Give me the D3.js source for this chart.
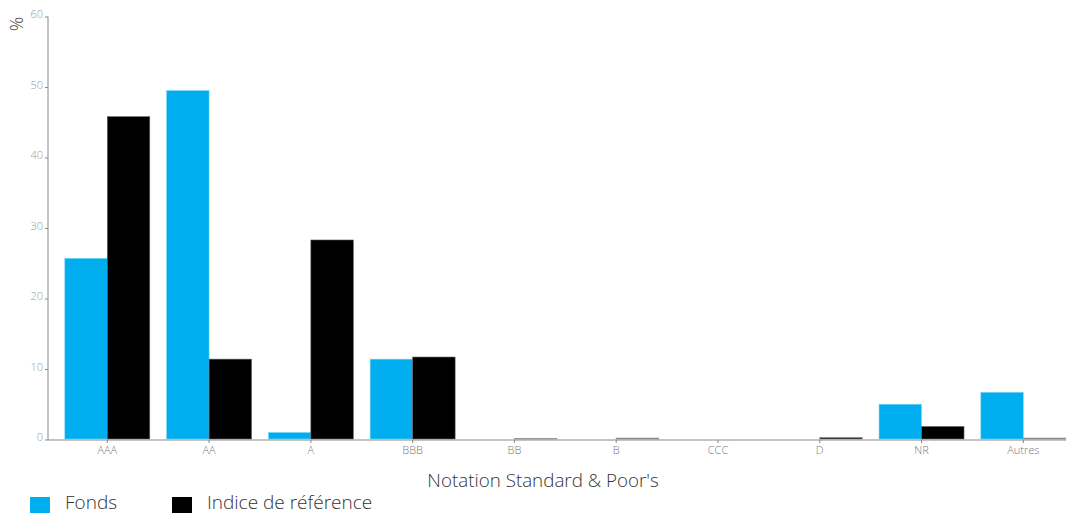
<!DOCTYPE html>
<html><head><meta charset="utf-8">
<script src="https://cdn.jsdelivr.net/npm/d3@7"></script>
<style>
body{margin:0;background:#fff;}
text{font-family:"Open Sans",sans-serif;}
</style></head>
<body><svg id="c" width="1074" height="514"></svg>
<script>
const categories = ["AAA","AA","A","BBB","BB","B","CCC","D","NR","Autres"];
const fonds = [25.7, 49.5, 1.0, 11.4, 0, 0, 0, 0, 5.0, 6.7];
const indice = [45.8, 11.4, 28.3, 11.7, 0.15, 0.2, 0, 0.3, 1.85, 0.2];
const yTicks = [0,10,20,30,40,50,60];
const seriesNames = ["Fonds","Indice de référence"];
const colors = ["#00AEEF","#000000"];
const strokes = ["#7fd6f7","#666666"];

const svg = d3.select("#c");
const x = d3.scaleBand().domain(categories).range([56.4,1074.2]).paddingInner(0.165).paddingOuter(0.0825);
const xs = d3.scaleBand().domain([0,1]).range([0,x.bandwidth()]);
const y = d3.scaleLinear().domain([0,60]).range([439.5,16.5]);

// bars
const data = categories.map((c,i)=>({c, v:[fonds[i], indice[i]]}));
const g = svg.append("g");
data.forEach(d=>{
  d.v.forEach((v,s)=>{
    if(v<=0) return;
    g.append("rect")
      .attr("x", x(d.c)+xs(s))
      .attr("y", y(v))
      .attr("width", xs.bandwidth())
      .attr("height", y(0)-y(v)-0.5)
      .attr("fill", colors[s])
      .attr("stroke", v<0.5 ? "#999" : strokes[s])
      .attr("stroke-width", v<0.5 ? 0.8 : 0.6);
  });
});

// y axis
const ya = svg.append("g").attr("transform","translate(48,0)")
  .call(d3.axisLeft(y).tickValues(yTicks).tickSize(3).tickPadding(2));
ya.select(".domain").attr("stroke","#888").attr("d","M0,16.5V440");
ya.selectAll(".tick line").attr("stroke","#888");
ya.selectAll(".tick text").attr("fill","#999").attr("font-size","11px").attr("font-weight",300).attr("dy","0.1em");

// x axis
const xa = svg.append("g").attr("transform","translate(0,440)")
  .call(d3.axisBottom(x).tickSize(3).tickPadding(3));
xa.select(".domain").attr("stroke","#888").attr("d","M48,0H1066");
xa.selectAll(".tick line").attr("stroke","#888");
xa.selectAll(".tick text").attr("fill","#777").attr("font-size","11px").attr("font-weight",300);

// axis titles
svg.append("text").attr("x",543).attr("y",487).attr("text-anchor","middle")
  .attr("font-size","18.8px").attr("font-weight",300).attr("fill","#333").text("Notation Standard & Poor's");
svg.append("text").attr("transform","translate(23,24) rotate(-90)").attr("text-anchor","middle")
  .attr("font-size","18px").attr("font-weight",300).attr("fill","#444").text("%");

// legend
const leg = [[30,65],[172,207]];
seriesNames.forEach((n,i)=>{
  svg.append("rect").attr("x",leg[i][0]).attr("y",497).attr("width",20).attr("height",16).attr("fill",colors[i]);
  svg.append("text").attr("x",leg[i][1]).attr("y",509).attr("font-size","19px").attr("font-weight",300).attr("fill","#333").text(n);
});
</script></body></html>
